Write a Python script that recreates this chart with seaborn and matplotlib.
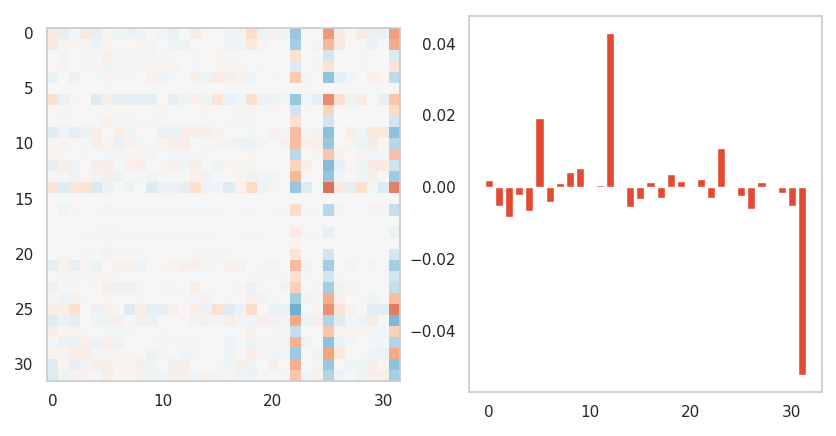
import numpy as np
import seaborn as sns
import matplotlib
matplotlib.use("Agg")
import matplotlib.pyplot as plt

# weight matrix (colour scale -10..10)
weights = [
    [1.0, -0.8, -0.2, 1.0, -0.8, -0.1, -0.4, -0.6, -0.5, 0, -0.3, -0.7, 0, 0.8, 0.2, 0, -0.3, -0.3, 1.8, -0.5, 0.4, -0.4, -3.8, 0, 0, 4.3, 0.8, -0.2, 0.9, -0.7, -0.7, 4.2],
    [0.9, 0.3, 0.2, 0.2, -0.5, 0.3, 0, 0, 0.2, -0.3, 0, -0.5, -0.5, 0, 0, 0, -0.4, -0.4, 1.0, 0.3, 0, 0, -3.4, 0, -0.3, 3.3, 0.9, 0.2, 0, -0.6, 0, 3.8],
    [0, -0.3, 0, 0.2, -0.2, 0.5, -0.1, -0.1, -0.1, -0.3, -0.1, -0.1, 0, 0.3, 0, 0.2, 0, 0, 0, 0, 0, 0, 1.5, 0, 0, -1.7, 0, 0, 0.2, 0, 0, -1.4],
    [0, 0.3, 0, -0.1, 0.3, -0.4, 0.2, 0.2, 0.2, 0.2, 0.3, 0.3, 0, -0.1, 0, 0.2, 0.3, 0.3, 0, 0.2, 0, 0, -1.3, 0, 0.3, 1.4, 0, 0, -0.1, 0, 0, 1.3],
    [-0.7, 0, -0.6, 0, -0.2, 0.3, -0.2, -0.2, 0, 0.4, -0.4, -0.2, 0, 0.6, -0.5, 0.8, 0.6, 0.4, -0.4, 0, 0.2, 0, 2.6, 0.3, 0, -4.0, -0.8, -0.3, 0, 0.5, 0.3, -2.6],
    [0] * 32,
    [1.6, -0.7, 0.3, 0, -1.3, 0.6, -0.9, -1.0, -0.9, -1.0, 0, -0.8, -0.4, 0.5, -0.4, 1.2, -0.7, -0.3, 1.6, -0.6, -0.5, -0.3, -3.8, -0.3, -0.9, 4.7, 1.6, -0.4, 0.8, 0, -0.8, 2.8],
    [0.2, 0.2, 0, 0, 0, -0.1, 0.2, 0.3, 0, 0, 0.2, 0, 0, 0, 0.2, 0, 0, 0.2, 0.3, 0, 0.2, 0, -2.0, 0.2, 0, 2.2, 0, 0, 0, 0, 0, 2.0],
    [0, -0.2, -0.1, 0.2, -0.2, 0.5, -0.2, -0.2, -0.2, -0.2, -0.2, -0.2, 0, 0, 0.2, 0, -0.2, -0.2, -0.2, 0, 0, 0, 1.6, 0, 0, -1.9, 0, 0, 0, 0, 0, -1.8],
    [-1.2, -0.4, -1.0, -0.7, 0.6, 0, 0.7, -0.4, 0, 0, -0.7, -0.7, 0.6, 0.6, 0.6, 0.4, 0, 0, -0.2, 0, 0.4, -0.2, 3.1, 0.2, -0.4, -4.2, 0, 0.6, -0.4, 1.0, 1.0, -4.1],
    [-0.2, 0.3, -0.2, -0.2, 0.6, 0.3, -0.7, 0.4, -0.2, 0, 0.3, 0.5, 0.7, 0, 0.3, 0.3, -0.4, -0.5, -0.5, 0.3, 0, 0.4, 3.1, 0.4, 0.5, -3.8, 0, 0.3, -0.5, 0.8, 0.3, -2.8],
    [0.2, 0.2, 0, 0.1, 0, -0.2, 0.2, 0.2, 0.2, 0.3, 0, -0.2, -0.2, -0.2, -0.2, 0, 0, 0, 0.3, 0, 0, 0, -2.7, 0, 0.2, 2.8, 0.4, 0, 0.3, -0.3, -0.2, 2.9],
    [-1.0, 0.6, -0.5, 0, 0.7, 0.7, 0, 0.5, 0.7, 0, 0.2, 0.4, -0.3, 0.6, 0.2, -0.5, 0.2, 0.3, 0.2, 0, 0, 0, 2.2, 0.6, 0, -4.3, -0.8, 0.3, -0.4, 0.8, 0.8, -2.1],
    [-0.2, -0.2, -0.5, 0.2, -0.4, 0.6, -0.5, -0.2, -0.2, -0.4, -0.2, -0.2, 0.2, 0.5, -0.4, -0.2, 0, 0.2, -0.5, -0.3, -0.3, 0, 3.3, 0, 0, -3.9, -0.3, 0, -0.4, 0.6, 0, -3.6],
    [1.3, -1.3, 1.2, 1.3, -1.5, -0.6, 0, -0.5, 0, -1.4, -0.6, -0.6, -0.8, 1.7, -0.5, -0.4, -1.3, 0.4, 2.0, -0.5, 0.3, 0, -3.8, -1.3, 0, 5.5, 1.0, -1.0, 1.6, -0.3, -1.3, 5.0],
    [0] * 32,
    [0, -0.4, 0.2, 0, -0.2, 0.3, -0.1, -0.1, -0.1, -0.1, -0.1, -0.1, -0.1, -0.1, -0.1, -0.1, 0, -0.2, -0.2, 0, -0.1, -0.1, 1.8, -0.2, -0.2, -2.8, -0.3, 0, 0, 0.3, 0.3, -2.4],
    [0] * 32,
    [0, -0.2, 0, 0.2, -0.2, 0.3, -0.1, -0.1, -0.1, -0.1, -0.1, -0.1, -0.1, 0.2, -0.1, 0.2, 0, -0.2, -0.2, -0.1, 0, 0, 0.8, -0.1, -0.1, -0.8, 0, 0.2, 0, 0, 0, -0.7],
    [0, 0, 0, 0, 0, -0.2, 0, 0, 0, 0, 0, 0, 0, 0, 0, 0, 0, 0, 0, 0, 0, 0, 0.3, 0, 0, 0, 0, 0, 0, 0, 0, 0],
    [0, -0.2, 0, 0.2, -0.2, 0.4, -0.2, -0.2, -0.1, 0, 0, 0, 0, 0.2, -0.1, 0.3, -0.2, 0, 0, 0, 0, 0, 1.4, 0, 0, -1.9, 0, 0, 0, 0, 0, -1.7],
    [-1.0, 0.4, -0.8, 0.3, -0.5, 0, 0.4, 0.4, -0.5, 0, 0.2, 0.3, 0.5, 0.7, 0.3, 0, 0.4, 0.4, 0, -0.2, -0.3, 0, 3.1, -0.4, 0, -3.5, 0, -0.3, 0, 0.3, 0, -3.4],
    [0, -0.2, -0.2, 0.2, -0.2, 0.3, -0.2, 0, 0, 0, 0, 0, 0, 0, 0, 0, 0, 0, -0.2, -0.2, -0.2, -0.2, 1.6, -0.2, 0, -1.8, -0.2, 0, 0, 0, 0, -1.8],
    [-0.6, -0.2, -0.2, 0, 0.2, 0.6, -0.6, -0.6, 0.3, 0, 0.3, 0.3, 0, 0.6, 0, 0, 0, 0.3, -0.6, 0, 0, -0.4, 2.4, 0, 0.2, -3.4, -0.4, 0.3, 0, 0, 0, -2.4],
    [0.2, -0.4, 0.5, -0.2, 0, 0.2, 0, 0, -0.2, 0, 0, 0, -0.2, -0.3, 0.4, 0, -0.2, 0, 0.5, -0.3, 0.2, 0, -3.4, -0.4, -0.2, 3.6, 0.5, 0, 0.2, -0.4, -0.2, 3.1],
    [0.6, 0.6, 1.7, 0, -0.6, 0.5, -0.2, -1.3, 0.6, -0.9, -0.9, 0.5, 0, 0.7, -0.6, 1.5, -1.2, -0.6, 1.8, 0, -0.6, -0.7, -4.8, 0, 0.3, 4.6, 1.4, 0.4, 0, -1.1, -1.1, 5.1],
    [-1.3, -0.7, -1.0, 0, -0.4, -0.5, 0.4, 0, 0.6, -0.7, 0, 0, 0, -0.4, 0.5, -0.3, 0.6, -0.3, -0.3, 0.5, 0.4, -0.3, 3.8, -0.5, 0.5, -3.0, -1.2, -0.3, -0.4, 0.9, 0, -4.5],
    [0.6, 0.3, 0.3, 0.2, 0, -0.2, -0.2, -0.2, 0, 0, -0.2, 0, 0, 0, 0, 0, 0, 0, 0.4, 0, -0.2, -0.2, -2.4, 0, 0, 2.8, 0.3, 0.3, 0.2, -0.2, -0.3, 2.4],
    [-0.2, -0.6, -0.6, 0.7, -0.6, 0.5, -0.6, 0, 0, -0.2, -0.2, -0.2, -0.2, 0.3, 0, 0, -0.4, 0, -0.5, 0.3, 0.3, 0.3, 3.5, -0.5, 0, -4.1, -0.7, 0.3, 0, -0.2, -0.2, -2.9],
    [0.3, 0.3, 0.7, 0.7, -0.2, 0.3, 0.2, 0.2, 0, -0.4, 0.3, 0, -0.3, -0.3, 0, 0, -0.4, 0, 0.7, -0.3, -0.3, -0.3, -3.7, 0, -0.4, 4.0, 1.0, 0, 0, -0.4, -0.6, 3.8],
    [-1.3, 0.3, -0.8, -0.4, 0.6, 0.7, 0.3, 0.3, 0.6, -0.4, 0, -0.6, 0.6, 0, 0, 0.2, -0.4, 0.6, -0.4, 0, 0.6, 0, 3.6, 0, 0.3, -3.8, 0, -0.4, -0.4, 0.7, 0.3, -4.1],
    [-1.3, -0.4, 0.4, 0.4, -0.2, 0.6, 0.2, 0.2, 0.5, -0.4, -0.4, 0.6, 0.6, -0.4, 0.4, -0.3, 0.3, -0.5, -0.6, -0.2, -0.1, -0.2, 2.8, -0.4, 0.4, -3.0, -0.6, 0, -0.4, 0.6, 0.6, -3.4],
]

# bias vector
bias = [0.0020, -0.0052, -0.0083, -0.0021, -0.0066, 0.0193, -0.0041, 0.0012,
        0.0043, 0.0054, 0.0, 0.0007, 0.0429, -0.0002, -0.0055, -0.0033,
        0.0015, -0.0030, 0.0037, 0.0018, -0.0002, 0.0023, -0.0030, 0.0109,
        0.0002, -0.0024, -0.0060, 0.0015, 0.0, -0.0016, -0.0052, -0.0522]
idx = list(range(len(bias)))
xtick_pos = [0, 10, 20, 30]

W = np.array(weights, dtype=float)

sns.set_theme(style="whitegrid")
fig, (ax1, ax2) = plt.subplots(1, 2, figsize=(8.37, 4.36), dpi=100)
fig.subplots_adjust(left=0.056, right=0.982, bottom=0.101, top=0.963, wspace=0.196)

ax1.imshow(W, cmap="RdBu_r", vmin=-10, vmax=10, interpolation="nearest")
ax1.set_xticks(xtick_pos)
ax1.grid(False)

sns.barplot(x=idx, y=bias, native_scale=True, color="#E24A33", saturation=1,
            errorbar=None, ax=ax2)
ax2.set_xticks(xtick_pos)
ax2.grid(False)

plt.savefig("out.png", dpi=100)
